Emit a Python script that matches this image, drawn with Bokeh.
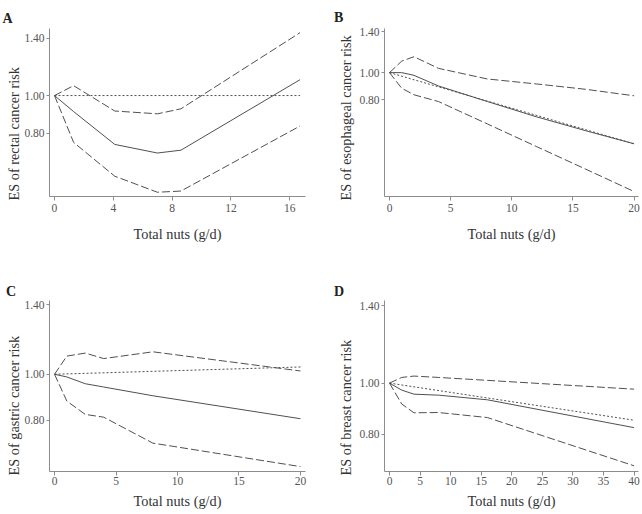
from bokeh.plotting import figure
from bokeh.layouts import gridplot
from bokeh.models import Range1d, FixedTicker, PrintfTickFormatter, Title
from bokeh.embed import file_html
from bokeh.resources import INLINE

# ---------------- data ----------------
# Panel A: rectal cancer
a_x = [0, 1.3, 4.1, 7.0, 8.6, 16.7]
a_es = [1.00, 0.91, 0.75, 0.713, 0.725, 1.098]
a_lo = [1.00, 0.759, 0.622, 0.566, 0.570, 0.836]
a_hi = [1.00, 1.060, 0.913, 0.898, 0.925, 1.448]
a_ref_x = [0, 16.7]
a_ref_y = [1.00, 1.00]
a_xticks = [0, 4, 8, 12, 16]

# Panel B: esophageal cancer
b_x = [0, 1, 2, 4, 8, 12, 16, 20]
b_es = [1.00, 1.00, 0.978, 0.896, 0.788, 0.695, 0.620, 0.556]
b_lo = [1.00, 0.879, 0.833, 0.788, 0.655, 0.544, 0.452, 0.375]
b_hi = [1.00, 1.100, 1.140, 1.036, 0.949, 0.911, 0.872, 0.826]
b_ref_x = [0, 20]
b_ref_y = [1.00, 0.556]
b_xticks = [0, 5, 10, 15, 20]

# Panel C: gastric cancer
c_x = [0, 1, 2.5, 4, 8, 20]
c_es = [1.00, 0.987, 0.955, 0.940, 0.901, 0.806]
c_lo = [1.00, 0.878, 0.823, 0.812, 0.716, 0.639]
c_hi = [1.00, 1.092, 1.108, 1.079, 1.115, 1.016]
c_ref_x = [0, 20]
c_ref_y = [1.00, 1.036]
c_xticks = [0, 5, 10, 15, 20]

# Panel D: breast cancer
d_x = [0, 2, 4, 8, 16, 40]
d_es = [1.00, 0.970, 0.953, 0.949, 0.930, 0.824]
d_lo = [1.00, 0.913, 0.879, 0.880, 0.861, 0.698]
d_hi = [1.00, 1.025, 1.031, 1.025, 1.012, 0.974]
d_ref_x = [0, 40]
d_ref_y = [1.00, 0.851]
d_xticks = [0, 5, 10, 15, 20, 25, 30, 35, 40]

y_ticks = [0.80, 1.00, 1.40]
x_label = "Total nuts (g/d)"

FONT = "Liberation Serif"
LINE = "#505050"
AXIS = "#8c8c8c"
LABEL_SIZE = "14.3px"


def panel(letter, ylab, xs, es, lo, hi, rx, ry, xticks, xr, yr, w, h, borders,
          letter_offset, letter_standoff, ylab_standoff, tick_standoff, xlab_standoff):
    left, right, top, bottom = borders
    p = figure(width=w, height=h, output_backend="svg", toolbar_location=None,
               y_axis_type="log", x_range=Range1d(*xr), y_range=Range1d(*yr),
               min_border_left=left, min_border_right=right,
               min_border_top=top, min_border_bottom=bottom)
    p.outline_line_color = None
    p.grid.visible = False
    p.background_fill_color = "white"
    p.border_fill_color = "white"

    p.line(xs, es, line_color=LINE, line_width=1.0)
    p.line(xs, lo, line_color=LINE, line_width=1.0, line_dash="8 3")
    p.line(xs, hi, line_color=LINE, line_width=1.0, line_dash="8 3")
    p.line(rx, ry, line_color=LINE, line_width=1.0, line_dash="2 2")

    for ax in (p.xaxis[0], p.yaxis[0]):
        ax.axis_line_color = AXIS
        ax.major_tick_line_color = AXIS
        ax.major_tick_in = 0
        ax.minor_tick_line_color = None
        ax.major_label_text_font = FONT
        ax.major_label_text_font_size = "11.5px"
        ax.major_label_text_color = "#555555"
        ax.axis_label_text_font = FONT
        ax.axis_label_text_font_size = LABEL_SIZE
        ax.axis_label_text_font_style = "normal"
        ax.axis_label_text_color = "#333333"
    p.xaxis.ticker = FixedTicker(ticks=xticks)
    p.xaxis.major_tick_out = 4
    p.xaxis.major_label_standoff = tick_standoff
    p.xaxis.axis_label = x_label
    p.xaxis.axis_label_standoff = xlab_standoff
    p.yaxis.ticker = FixedTicker(ticks=y_ticks)
    p.yaxis.formatter = PrintfTickFormatter(format="%.2f")
    p.yaxis.major_tick_out = 3
    p.yaxis.major_label_standoff = 2

    # panel letter
    p.title.text = letter
    p.title.text_font = FONT
    p.title.text_font_size = "14px"
    p.title.text_font_style = "bold"
    p.title.text_color = "#222222"
    p.title.align = "left"
    p.title.offset = letter_offset
    p.title.standoff = letter_standoff

    # y-axis caption, starting at the bottom of the frame
    p.add_layout(Title(text=ylab, align="left", offset=-4, text_font=FONT,
                       text_font_size=LABEL_SIZE, text_font_style="normal",
                       text_color="#333333", standoff=ylab_standoff), "left")
    return p


pa = panel("A", "ES of rectal cancer risk", a_x, a_es, a_lo, a_hi, a_ref_x, a_ref_y,
           a_xticks, (-0.34, 17.07), (0.552, 1.484), 321, 257, (49, 16, 27, 61),
           -47.0, 6, 0, 3, 11)
pb = panel("B", "ES of  esophageal cancer risk", b_x, b_es, b_lo, b_hi, b_ref_x, b_ref_y,
           b_xticks, (-0.41, 20.36), (0.360, 1.439), 321, 257, (63, 4, 28, 60),
           -50.5, 7, 6, 3, 11)
pc = panel("C", "ES of gastric cancer risk", c_x, c_es, c_lo, c_hi, c_ref_x, c_ref_y,
           c_xticks, (-0.41, 20.41), (0.624, 1.430), 321, 257, (49, 16, 43, 43),
           -43.5, 4, 0, 1, 5)
pd = panel("D", "ES of breast cancer risk", d_x, d_es, d_lo, d_hi, d_ref_x, d_ref_y,
           d_xticks, (-0.82, 40.72), (0.681, 1.432), 321, 257, (63, 4, 43, 43),
           -50.5, 4, 6, 1, 5)

grid = gridplot([[pa, pb], [pc, pd]], toolbar_location=None)
open("out.html", "w").write(file_html(grid, INLINE))
